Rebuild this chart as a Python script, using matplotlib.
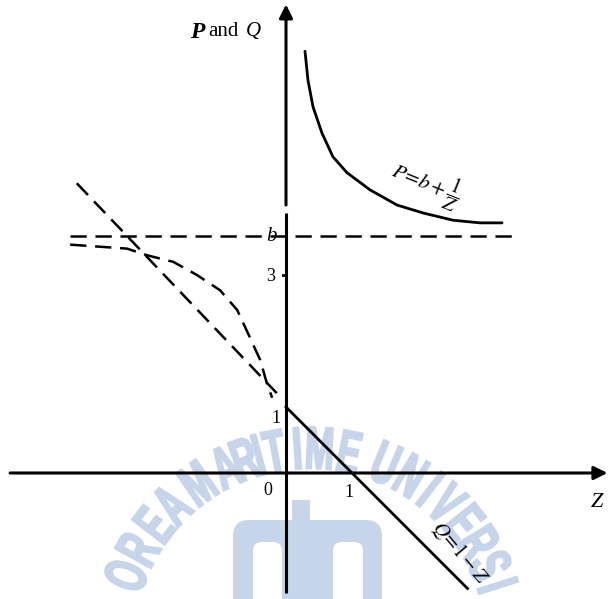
import numpy as np
import matplotlib
matplotlib.use("Agg")
import matplotlib.pyplot as plt
from matplotlib.patches import FancyBboxPatch, Rectangle
from matplotlib.patheffects import AbstractPathEffect
from matplotlib.transforms import Affine2D

plt.rcParams["mathtext.fontset"] = "stix"
SERIF = "Liberation Serif"

# ---- curve data (Z, value) ----
b_level = 3.59
b_span = [-3.27, 3.47]

p_z = [0.288, 0.333, 0.409, 0.545, 0.712, 0.924, 1.273, 1.682, 2.076, 2.530, 2.939, 3.273]
p_val = [6.39, 5.95, 5.55, 5.15, 4.79, 4.55, 4.29, 4.06, 3.94, 3.83, 3.79, 3.79]

q_z = [0.0, 2.75]
q_val = [1.0, -1.75]

cross_z = [-3.17, -0.14]
cross_val = [4.39, 1.21]

bend_z = [-3.27, -2.41, -2.11, -1.71, -1.35, -1.00, -0.74, -0.55, -0.39, -0.29, -0.21]
bend_val = [3.46, 3.40, 3.30, 3.20, 3.00, 2.77, 2.47, 2.06, 1.71, 1.36, 1.14]


class Squeeze(AbstractPathEffect):
    """Draw glyphs narrowed horizontally about their own centre, with a heavier stroke."""

    def __init__(self, sx, stroke=0.0):
        super().__init__()
        self.sx = sx
        self.stroke = stroke

    def draw_path(self, renderer, gc, tpath, affine, rgbFace=None):
        ext = tpath.get_extents()
        xc = 0.5 * (ext.x0 + ext.x1)
        squeeze = Affine2D().translate(-xc, 0).scale(self.sx, 1.0).translate(xc, 0)
        gc0 = renderer.new_gc()
        gc0.copy_properties(gc)
        if self.stroke and rgbFace is not None:
            gc0.set_linewidth(self.stroke)
            gc0.set_foreground(rgbFace)
            gc0.set_joinstyle("miter")
        renderer.draw_path(gc0, tpath, squeeze + affine, rgbFace)
        gc0.restore()


# ---- figure ----
fig = plt.figure(figsize=(6.12, 5.99), dpi=100)

# background layer in pixel units (university seal)
bg = fig.add_axes([0, 0, 1, 1])
bg.set_xlim(0, 612)
bg.set_ylim(599, 0)
bg.axis("off")
wm = "#c7d5ea"
letters = list("OREAMARITIMEUNIVERSI")
angles = [159.3, 151.1, 142.5, 134.6, 124.8, 115.4, 109.6, 105.2, 100.4, 93.7,
          87.2, 78.6, 67.4, 59.2, 52.3, 46.0, 38.6, 31.4, 23.8, 17.6]
cx, cy, rad = 310.0, 645.0, 192.0
for ch, ang in zip(letters, angles):
    a = np.deg2rad(ang)
    bg.text(cx + rad * np.cos(a), cy - rad * np.sin(a), ch, color=wm,
            family="Liberation Sans", fontweight="bold", fontsize=43,
            ha="center", va="center", rotation=ang - 90, rotation_mode="anchor",
            path_effects=[Squeeze(0.58, stroke=1.6)])
bg.add_patch(FancyBboxPatch((233, 520), 149, 110, boxstyle="round,pad=0,rounding_size=16",
                            fc=wm, ec="none"))
bg.add_patch(Rectangle((292, 500), 18, 30, fc=wm, ec="none"))
bg.add_patch(FancyBboxPatch((253, 542), 29, 90, boxstyle="round,pad=0,rounding_size=9",
                            fc="white", ec="none"))
bg.add_patch(FancyBboxPatch((333, 542), 30, 90, boxstyle="round,pad=0,rounding_size=9",
                            fc="white", ec="none"))

# main diagram in data units
ax = fig.add_axes([0, 0, 1, 1], zorder=2)
ax.patch.set_alpha(0)
ax.set_xlim(-286 / 66, 326 / 66)
ax.set_ylim(-126 / 66, 473 / 66)
ax.axis("off")

axis_kw = dict(color="black", lw=2.2, solid_capstyle="butt")
ax.annotate("", xy=(4.87, 0), xytext=(-4.18, 0),
            arrowprops=dict(arrowstyle="-|>", lw=2.2, color="black", mutation_scale=20,
                            shrinkA=0, shrinkB=0))
ax.plot([0, 0], [-1.82, 3.94], **axis_kw)
ax.annotate("", xy=(0, 7.10), xytext=(0, 4.06),
            arrowprops=dict(arrowstyle="-|>", lw=2.2, color="black", mutation_scale=20,
                            shrinkA=0, shrinkB=0))
ax.plot([-0.05, 0], [3.0, 3.0], color="black", lw=2)

dash_kw = dict(color="black", lw=1.8, dashes=(6.5, 3.5))
ax.plot(b_span, [b_level, b_level], **dash_kw)
ax.plot(cross_z, cross_val, **dash_kw)
ax.plot(bend_z, bend_val, **dash_kw)

ax.plot(p_z, p_val, color="black", lw=2.0, solid_capstyle="round")
ax.plot(q_z, q_val, color="black", lw=2.0)

num_kw = dict(family=SERIF, fontsize=13, ha="center", va="center")
ax.text(-0.22, b_level, "b", family=SERIF, style="italic", fontsize=15, ha="center", va="center")
ax.text(-0.24, 2.97, "3", **num_kw)
ax.text(-0.15, 0.83, "1", **num_kw)
ax.text(-0.27, -0.26, "0", **num_kw)
ax.text(0.96, -0.29, "1", **num_kw)
ax.text(4.71, -0.45, "Z", family=SERIF, style="italic", fontsize=16, ha="center", va="center")

ax.text(-1.35, 6.68, "P", family=SERIF, style="italic", fontweight="bold", fontsize=17,
        ha="center", va="center")
ax.text(-0.95, 6.69, "and", family=SERIF, fontsize=15, ha="center", va="center")
ax.text(-0.50, 6.69, "Q", family=SERIF, style="italic", fontsize=15, ha="center", va="center")

ax.text(2.13, 4.38, r"$P\!=\!b+\dfrac{1}{Z}$", fontsize=15, rotation=-22,
        ha="center", va="center", rotation_mode="anchor")
ax.text(2.64, -1.20, r"$Q\!=\!1-Z$", fontsize=15, rotation=-50,
        ha="center", va="center", rotation_mode="anchor")

fig.savefig("out.png", dpi=100)
